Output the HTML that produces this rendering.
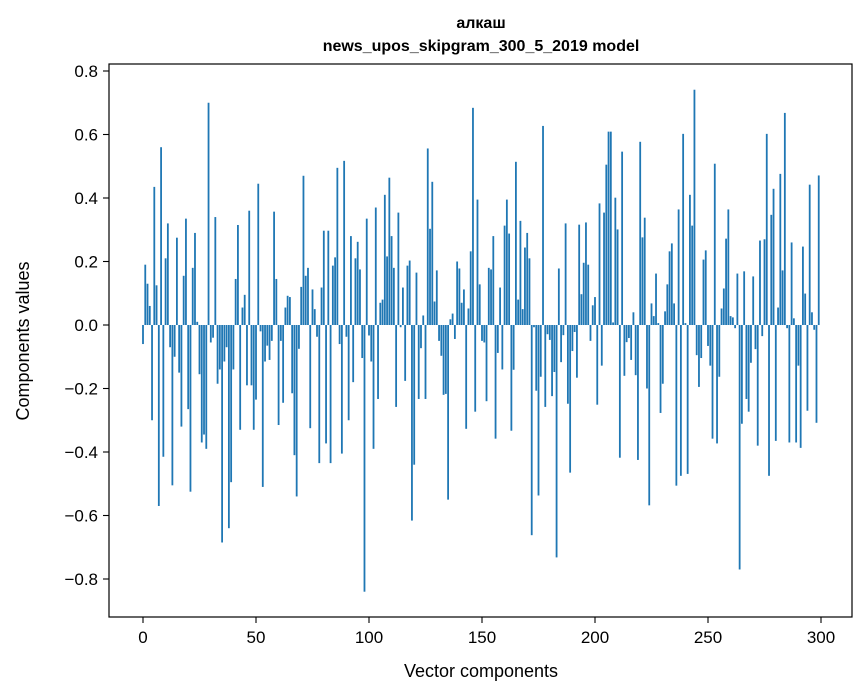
<!DOCTYPE html>
<html><head><meta charset="utf-8"><style>
body{margin:0;background:#fff;}
svg{display:block;font-family:"Liberation Sans","DejaVu Sans",sans-serif;}
</style></head><body>
<svg id="chart" width="867" height="696" viewBox="0 0 867 696">
<rect width="867" height="696" fill="#fff"/>
<text x="481" y="28" text-anchor="middle" font-size="16" font-weight="bold">алкаш</text>
<text x="481" y="51" text-anchor="middle" font-size="16" font-weight="bold">news_upos_skipgram_300_5_2019 model</text>
<g id="bars"></g>
<g id="yticks"></g>
<g id="xticks"></g>
<rect x="109" y="64" width="743" height="553" fill="none" stroke="#000" stroke-width="1.2"/>
<text x="481" y="677" text-anchor="middle" font-size="18">Vector components</text>
<text transform="translate(29,341) rotate(-90)" text-anchor="middle" font-size="18">Components values</text>
</svg>
<script>
const values = [
-0.06,0.19,0.13,0.06,-0.30,0.435,0.125,-0.57,0.56,-0.415,
0.21,0.32,-0.07,-0.505,-0.10,0.275,-0.15,-0.32,0.155,0.335,
-0.265,-0.525,0.18,0.29,0.01,-0.155,-0.37,-0.345,-0.39,0.70,
-0.055,-0.04,0.34,-0.185,-0.14,-0.685,-0.115,-0.07,-0.64,-0.495,
-0.14,0.145,0.315,-0.33,0.055,0.095,-0.19,0.36,-0.19,-0.33,
-0.235,0.445,-0.02,-0.51,-0.115,-0.065,-0.11,-0.05,0.357,0.145,
-0.315,-0.05,-0.245,0.055,0.092,0.088,-0.215,-0.41,-0.54,-0.075,
0.12,0.47,0.155,0.18,-0.325,0.112,0.05,-0.037,-0.435,0.118,
0.297,-0.373,0.297,-0.435,0.187,0.213,0.495,-0.06,-0.405,0.517,
-0.037,-0.30,0.28,-0.18,0.21,0.262,0.175,-0.104,-0.84,0.335,
-0.033,-0.115,-0.39,0.37,-0.233,0.07,0.08,0.41,0.216,0.464,
0.28,0.18,-0.258,0.354,-0.007,0.118,-0.176,0.187,0.203,-0.616,
-0.44,0.165,-0.233,-0.073,0.03,-0.233,0.556,0.303,0.451,0.074,
0.172,-0.05,-0.097,-0.22,-0.217,-0.55,0.018,0.036,-0.044,0.2,
0.178,0.07,0.112,-0.327,0.052,0.232,0.684,-0.273,0.395,0.128,
-0.05,-0.055,-0.24,0.18,0.175,0.28,-0.358,-0.088,0.118,-0.14,
0.313,0.395,0.288,-0.333,-0.141,0.514,0.08,0.328,0.05,0.244,
0.29,0.21,-0.662,-0.007,-0.207,-0.537,-0.163,0.627,-0.258,-0.029,
-0.047,-0.224,-0.148,-0.732,0.178,-0.117,-0.032,0.32,-0.248,-0.465,
-0.082,-0.022,-0.166,0.316,0.097,0.196,0.323,0.19,-0.05,0.062,
0.088,-0.251,0.383,-0.128,0.354,0.505,0.609,0.609,0.008,0.401,
0.301,-0.418,0.546,-0.16,-0.054,-0.041,-0.11,0.04,-0.158,-0.425,
0.577,0.276,0.338,-0.2,-0.568,0.068,0.028,0.162,0.006,-0.277,
-0.185,0.043,0.128,0.232,0.257,0.068,-0.506,0.364,-0.475,0.602,
0.006,-0.469,0.41,0.313,0.741,-0.095,-0.195,-0.104,0.206,0.235,
-0.066,-0.128,-0.358,0.508,-0.373,-0.163,0.052,0.115,0.272,0.364,
0.028,0.024,-0.01,0.162,-0.77,-0.311,0.169,-0.233,-0.273,-0.119,
0.153,-0.076,-0.38,0.266,-0.035,0.27,0.602,-0.475,0.347,0.429,
-0.365,0.055,0.476,0.172,0.668,-0.01,-0.37,0.26,0.021,-0.37,
-0.128,-0.387,0.247,0.099,-0.27,0.442,0.04,-0.015,-0.308,0.471
];
const yTicks = [-0.8,-0.6,-0.4,-0.2,0.0,0.2,0.4,0.6,0.8];
const xTicks = [0,50,100,150,200,250,300];

const NS = "http://www.w3.org/2000/svg";
function xScale(v){ return 143 + v * 2.26; }
function yScale(v){ return 325 - v * 317.5; }
const barsG = document.getElementById('bars');
values.forEach((v,i)=>{
  const r = document.createElementNS(NS,'rect');
  const y0 = yScale(0), y1 = yScale(v);
  r.setAttribute('x', xScale(i) - 0.9);
  r.setAttribute('width', 1.8);
  r.setAttribute('y', Math.min(y0,y1));
  r.setAttribute('height', Math.max(Math.abs(y1-y0),0.3));
  r.setAttribute('fill', '#1f77b4');
  
  
  barsG.appendChild(r);
});
const yg = document.getElementById('yticks');
yTicks.forEach(t=>{
  const y = yScale(t);
  const l = document.createElementNS(NS,'line');
  l.setAttribute('x1',103); l.setAttribute('x2',109);
  l.setAttribute('y1',y); l.setAttribute('y2',y);
  l.setAttribute('stroke','#000'); l.setAttribute('stroke-width','1.1');
  
  
  yg.appendChild(l);
  const tx = document.createElementNS(NS,'text');
  tx.setAttribute('x',98); tx.setAttribute('y',y+6);
  tx.setAttribute('text-anchor','end'); tx.setAttribute('font-size','17');
  tx.textContent = (t<0?'\u2212':'') + Math.abs(t).toFixed(1);
  
  
  yg.appendChild(tx);
});
const xg = document.getElementById('xticks');
xTicks.forEach(t=>{
  const x = xScale(t);
  const l = document.createElementNS(NS,'line');
  l.setAttribute('x1',x); l.setAttribute('x2',x);
  l.setAttribute('y1',617); l.setAttribute('y2',623);
  l.setAttribute('stroke','#000'); l.setAttribute('stroke-width','1.1');
  
  
  xg.appendChild(l);
  const tx = document.createElementNS(NS,'text');
  tx.setAttribute('x',x); tx.setAttribute('y',643);
  tx.setAttribute('text-anchor','middle'); tx.setAttribute('font-size','17');
  tx.textContent = String(t);
  
  
  xg.appendChild(tx);
});
</script>
</body></html>
